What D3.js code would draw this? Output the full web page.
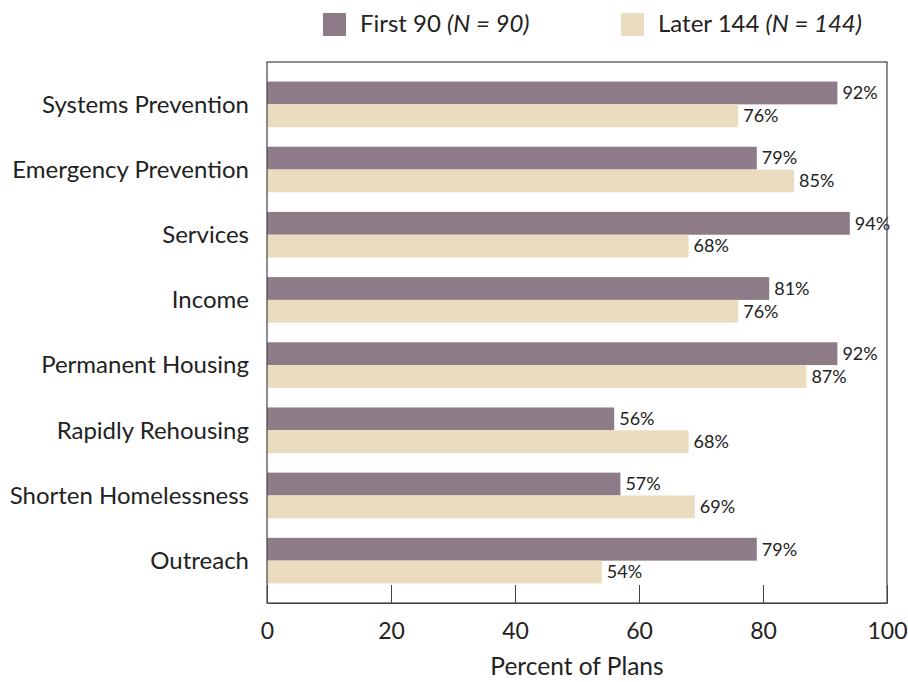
<!DOCTYPE html>
<html><head><meta charset="utf-8">
<script src="https://cdn.jsdelivr.net/npm/d3@7"></script>
<style>body{margin:0;background:#fff}</style>
</head><body>
<svg id="c" width="908" height="682"></svg>
<script>
const categories = ["Systems Prevention","Emergency Prevention","Services","Income","Permanent Housing","Rapidly Rehousing","Shorten Homelessness","Outreach"];
const first90 = [92,79,94,81,92,56,57,79];
const later144 = [76,85,68,76,87,68,69,54];
const seriesNames = ["First 90","Later 144"];
const seriesN = ["(N = 90)","(N = 144)"];
const xTicks = [0,20,40,60,80,100];
const colors = ["#8d7b87","#ebdcc0"];

const svg = d3.select("#c");
const font = "Lato, 'Noto Sans', sans-serif";
const L=267, R=887, T=62, B=603;
const x = d3.scaleLinear().domain([0,100]).range([L,R]);
const y = d3.scaleBand().domain(categories).range([T,B]).paddingInner(0.3).paddingOuter(0.3);
const ys = d3.scaleBand().domain([0,1]).range([0,y.bandwidth()]);

const data = categories.map((c,i)=>({c, v:[first90[i], later144[i]]}));

const g = svg.append("g");
data.forEach(d=>{
  d.v.forEach((v,k)=>{
    g.append("rect").attr("x",x(0)).attr("y",y(d.c)+ys(k)).attr("width",x(v)-x(0)).attr("height",ys.bandwidth()).attr("fill",colors[k]);
    g.append("text").attr("x",x(v)+5).attr("y",y(d.c)+ys(k)+ys.bandwidth()/2).attr("dy","0.35em")
      .attr("font-family",font).attr("font-size",18).attr("fill","#222").text(v+"%");
  });
});

// frame
svg.append("rect").attr("x",L).attr("y",T).attr("width",R-L).attr("height",B-T).attr("fill","none").attr("stroke","#444").attr("stroke-width",1.2);

// x axis
const xa = svg.append("g").attr("transform",`translate(0,${B})`)
  .call(d3.axisBottom(x).tickValues(xTicks).tickSizeInner(-18).tickSizeOuter(0).tickPadding(20));
xa.select(".domain").attr("stroke","#444");
xa.selectAll(".tick line").attr("stroke","#444");
xa.selectAll("text").attr("font-family",font).attr("font-size",23).attr("fill","#222");

// y labels
svg.append("g").selectAll("text").data(categories).join("text")
  .attr("x",L-18).attr("y",d=>y(d)+y.bandwidth()/2).attr("dy","0.35em").attr("text-anchor","end")
  .attr("font-family",font).attr("font-size",24).attr("fill","#222").text(d=>d);

// axis title
svg.append("text").attr("x",(L+R)/2).attr("y",675).attr("text-anchor","middle")
  .attr("font-family",font).attr("font-size",24.5).attr("fill","#222").text("Percent of Plans");

// legend
const lx=[323,621];
seriesNames.forEach((s,k)=>{
  svg.append("rect").attr("x",lx[k]).attr("y",13).attr("width",23).attr("height",23).attr("fill",colors[k]);
  const t = svg.append("text").attr("x",lx[k]+37).attr("y",32).attr("font-family",font).attr("font-size",24).attr("fill","#222");
  t.append("tspan").text(s+" ");
  t.append("tspan").attr("font-style","italic").text(seriesN[k]);
});
</script>
</body></html>
